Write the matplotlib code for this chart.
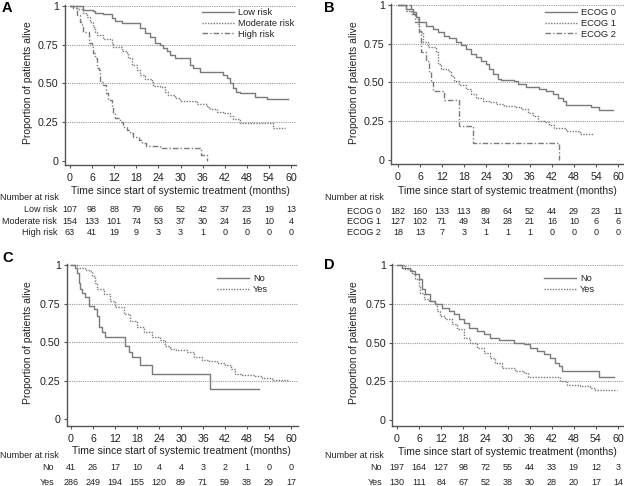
import matplotlib
matplotlib.use("Agg")
import matplotlib.pyplot as plt
from matplotlib.transforms import blended_transform_factory

plt.rcParams['font.family'] = ['Liberation Sans', 'DejaVu Sans']

# ---------------- data ----------------
x_ticks = [0, 6, 12, 18, 24, 30, 36, 42, 48, 54, 60]
y_ticks = [0, 0.25, 0.5, 0.75, 1]
y_ticklabels = ["0", "0.25", "0.50", "0.75", "1"]

# Panel A
a_low_t = [0, 3.6, 6.3, 6.8, 9, 11.3, 12.2, 14, 19, 20.4, 21.7, 23, 24.4, 25.3, 26.2, 27.1, 28.5, 32.6, 33.5, 35.3, 41.6, 42.5, 43.4, 44.3, 45.2, 46.2, 50.2, 53.4, 59.3]
a_low_s = [1, 0.974, 0.968, 0.953, 0.948, 0.92, 0.903, 0.888, 0.856, 0.828, 0.80, 0.763, 0.748, 0.727, 0.71, 0.684, 0.667, 0.62, 0.598, 0.572, 0.555, 0.533, 0.501, 0.469, 0.447, 0.437, 0.415, 0.40, 0.40]
a_mod_t = [0, 1.8, 3.6, 4.5, 5.4, 6.3, 6.8, 7.2, 9, 11.3, 11.8, 14, 15.4, 15.8, 16.7, 18.1, 19, 20.4, 22.2, 22.6, 24.4, 25.8, 26.7, 28.5, 29.9, 34.4, 37.1, 38, 39.8, 41.6, 43.4, 44.3, 46.2, 55.2, 58.4]
a_mod_s = [1, 0.978, 0.953, 0.931, 0.899, 0.867, 0.834, 0.813, 0.79, 0.759, 0.733, 0.712, 0.695, 0.662, 0.619, 0.587, 0.555, 0.527, 0.512, 0.484, 0.475, 0.447, 0.426, 0.404, 0.387, 0.368, 0.35, 0.333, 0.318, 0.308, 0.29, 0.269, 0.243, 0.215, 0.215]
a_high_t = [0, 0.9, 1.8, 2.7, 3.2, 3.6, 5.2, 5.9, 6.3, 6.8, 7.2, 8.0, 8.1, 9, 9.9, 10.4, 11.3, 11.8, 12.2, 13.6, 14.5, 15.4, 16.3, 17.2, 18.6, 19.5, 20.6, 24.3, 35.6, 37.1]
a_high_s = [1, 0.985, 0.942, 0.899, 0.867, 0.834, 0.759, 0.738, 0.695, 0.662, 0.598, 0.587, 0.512, 0.49, 0.437, 0.394, 0.35, 0.308, 0.275, 0.254, 0.222, 0.2, 0.178, 0.157, 0.135, 0.114, 0.097, 0.082, 0.039, 0.0]

# Panel B
b_e0_t = [0, 2.2, 4, 4.9, 5.8, 7.6, 9.5, 10.8, 12.6, 14, 15.8, 17.2, 18.5, 19.9, 21.3, 22.6, 24, 24.9, 25.8, 27.2, 28.1, 31.7, 32.6, 34.9, 38.5, 40.4, 42.2, 43.6, 44.9, 45.8, 52.6, 54.9, 58.5]
b_e0_s = [1, 0.974, 0.953, 0.92, 0.888, 0.866, 0.845, 0.823, 0.802, 0.79, 0.763, 0.741, 0.716, 0.683, 0.662, 0.64, 0.619, 0.586, 0.554, 0.522, 0.515, 0.511, 0.489, 0.468, 0.461, 0.446, 0.425, 0.403, 0.381, 0.353, 0.343, 0.323, 0.323]
b_e1_t = [0, 2.2, 4, 4.9, 5.4, 5.8, 6.7, 8.1, 10.4, 10.9, 11.8, 13.6, 14.5, 15.4, 16.7, 18.5, 19.9, 21.3, 23.1, 24.9, 26.7, 29, 32.2, 33.5, 35.4, 36.7, 38.1, 39.9, 41.2, 42.6, 45.8, 49.5, 53.1]
b_e1_s = [1, 0.963, 0.942, 0.92, 0.877, 0.823, 0.76, 0.726, 0.694, 0.619, 0.586, 0.575, 0.543, 0.511, 0.483, 0.457, 0.425, 0.403, 0.381, 0.371, 0.36, 0.349, 0.345, 0.328, 0.306, 0.285, 0.253, 0.242, 0.224, 0.209, 0.188, 0.166, 0.166]
b_e2_t = [0, 3.5, 4.5, 5.6, 6.3, 7.6, 8.4, 9.0, 9.5, 12.6, 16.5, 20.5, 43.8]
b_e2_s = [1, 0.944, 0.889, 0.833, 0.694, 0.639, 0.565, 0.5, 0.444, 0.389, 0.222, 0.111, 0.0]

# Panel C
c_no_t = [0, 1.2, 1.6, 2.1, 2.5, 3, 3.9, 4.8, 6.2, 7.1, 7.5, 8.5, 9.4, 14.8, 15.7, 16.6, 18.9, 22.1, 38, 51.2]
c_no_s = [1, 0.983, 0.95, 0.886, 0.843, 0.821, 0.789, 0.735, 0.714, 0.671, 0.596, 0.563, 0.535, 0.477, 0.434, 0.402, 0.348, 0.29, 0.194, 0.194]
c_yes_t = [0, 1.6, 3.9, 4.8, 5.7, 6.6, 7.1, 8.9, 10.7, 12.1, 14.4, 16.2, 18, 19.8, 22.1, 24.4, 25.7, 27.1, 28.5, 31.6, 33.5, 35.7, 37.5, 39.8, 42.1, 43.5, 44.8, 46.6, 50.3, 52.1, 54.8, 59.4]
c_yes_s = [1, 0.978, 0.966, 0.961, 0.929, 0.886, 0.843, 0.811, 0.768, 0.725, 0.682, 0.639, 0.596, 0.563, 0.531, 0.51, 0.477, 0.456, 0.445, 0.434, 0.402, 0.381, 0.376, 0.363, 0.348, 0.327, 0.295, 0.284, 0.277, 0.269, 0.256, 0.256]

# Panel D
d_no_t = [0, 1.4, 3.6, 5, 5.9, 6.8, 7.7, 9, 10.4, 12.2, 14, 15.4, 16.7, 18.1, 19.5, 21.7, 23.5, 25.3, 27.6, 31.7, 34.4, 36.2, 38, 39.8, 41.6, 43, 43.9, 44.8, 54.8, 58.8]
d_no_s = [1, 0.978, 0.961, 0.94, 0.908, 0.843, 0.811, 0.768, 0.746, 0.725, 0.703, 0.682, 0.649, 0.628, 0.596, 0.574, 0.553, 0.531, 0.514, 0.499, 0.488, 0.467, 0.445, 0.424, 0.402, 0.37, 0.348, 0.316, 0.28, 0.28]
d_yes_t = [0, 2.3, 4.1, 5, 5.9, 6.3, 7.2, 8.6, 10.4, 10.9, 11.8, 13.1, 14.9, 16.3, 18.1, 19.9, 21.7, 23.5, 25.3, 26.7, 28.5, 32.1, 34.4, 35.7, 44.3, 46.2, 49.8, 52.5, 53.8, 59.7]
d_yes_s = [1, 0.972, 0.94, 0.908, 0.865, 0.822, 0.78, 0.768, 0.746, 0.703, 0.671, 0.649, 0.617, 0.585, 0.531, 0.499, 0.467, 0.434, 0.402, 0.37, 0.338, 0.316, 0.306, 0.278, 0.252, 0.224, 0.219, 0.209, 0.194, 0.194]

# Numbers at risk
a_labels = ["Low risk", "Moderate risk", "High risk"]
a_risk = [[107, 98, 88, 79, 66, 52, 42, 37, 23, 19, 13],
          [154, 133, 101, 74, 53, 37, 30, 24, 16, 10, 4],
          [63, 41, 19, 9, 3, 3, 1, 0, 0, 0, 0]]
b_labels = ["ECOG 0", "ECOG 1", "ECOG 2"]
b_risk = [[182, 160, 133, 113, 89, 64, 52, 44, 29, 23, 11],
          [127, 102, 71, 49, 34, 28, 21, 16, 10, 6, 6],
          [18, 13, 7, 3, 1, 1, 1, 0, 0, 0, 0]]
c_labels = ["No", "Yes"]
c_risk = [[41, 26, 17, 10, 4, 4, 3, 2, 1, 0, 0],
          [286, 249, 194, 155, 120, 89, 71, 59, 38, 29, 17]]
d_labels = ["No", "Yes"]
d_risk = [[197, 164, 127, 98, 72, 55, 44, 33, 19, 12, 3],
          [130, 111, 84, 67, 52, 38, 30, 28, 20, 17, 14]]

# ---------------- styling ----------------
W, H = 624, 486
fig = plt.figure(figsize=(W / 100, H / 100), dpi=100)
LINE = '#7a7a7a'
GRID = '#9a9a9a'
SPINE = '#555555'
TXT = '#222222'
FS_TICK = 7.7
FS_LAB = 7.5
FS_LEG = 6.7
TFS = 6.5
styles = ['-', (0, (1, 1)), (0, (4, 1.5, 1, 1.5))]


def fy(ypx):
    return 1 - ypx / H


def make_ax(spine_l, x0px, x60px, right, y1px, y0px, bottom_px, top_px):
    sx = (x60px - x0px) / 60.0
    sy = (y0px - y1px)
    ax = fig.add_axes([spine_l / W, fy(bottom_px), (right - spine_l) / W, (bottom_px - top_px) / H])
    ax.set_xlim(-(x0px - spine_l) / sx, 60 + (right - x60px) / sx)
    ax.set_ylim(-(bottom_px - y0px) / sy, 1 + (y1px - top_px) / sy)
    for s in ['top', 'right']:
        ax.spines[s].set_visible(False)
    for s in ['left', 'bottom']:
        ax.spines[s].set_color(SPINE)
        ax.spines[s].set_linewidth(1.0)
    ax.set_xticks(x_ticks)
    ax.set_yticks(y_ticks)
    ax.set_yticklabels(y_ticklabels)
    ax.tick_params(axis='both', length=2.5, width=0.8, color=SPINE, labelsize=FS_TICK, labelcolor=TXT)
    ax.tick_params(axis='x', pad=3)
    ax.tick_params(axis='y', pad=2)
    for yv in [0.25, 0.5, 0.75, 1.0]:
        ax.axhline(yv, color=GRID, lw=0.8, ls=(0, (1, 1)), zorder=0)
    ax.patch.set_alpha(0)
    return ax


def curves(ax, series, labels, leg_x, leg_y):
    for (t, s), lab, st in zip(series, labels, styles):
        ax.step(t, s, where='post', color=LINE, lw=1.0, ls=st, label=lab)
    ax.legend(loc='upper left', bbox_to_anchor=(leg_x / W, fy(leg_y)), bbox_transform=fig.transFigure,
              frameon=False, fontsize=FS_LEG, handlelength=3.4, handletextpad=0.45, labelspacing=0.2,
              borderpad=0, borderaxespad=0, labelcolor=TXT)


def risk_table(ax, labels, rows, nar_x, nar_y, lab_right, row_ys):
    tr = blended_transform_factory(ax.transData, fig.transFigure)
    fig.text(nar_x / W, fy(nar_y), "Number at risk", fontsize=TFS, color=TXT, ha='left', va='center')
    for lab, row, ry in zip(labels, rows, row_ys):
        fig.text(lab_right / W, fy(ry), lab, fontsize=TFS, color=TXT, ha='right', va='center')
        for xv, n in zip(x_ticks, row):
            ax.text(xv, fy(ry), str(n), transform=tr, fontsize=TFS, color=TXT, ha='center', va='center')


XLABEL = "Time since start of systemic treatment (months)"
YLABEL = "Proportion of patients alive"

# Panel A
axA = make_ax(65, 70, 291, 296, 6, 161, 165, 5)
curves(axA, [(a_low_t, a_low_s), (a_mod_t, a_mod_s), (a_high_t, a_high_s)], a_labels, 202, 8)
risk_table(axA, a_labels, a_risk, 0, 197, 57, [210, 221, 232])
fig.text(180 / W, fy(191), XLABEL, fontsize=FS_LAB, color=TXT, ha='center', va='center')
fig.text(28 / W, fy(83), YLABEL, fontsize=FS_LAB, color=TXT, ha='center', va='center', rotation=90)
fig.text(2 / W, fy(8), "A", fontsize=10.5, fontweight='bold', ha='left', va='center')

# Panel B
axB = make_ax(391, 398, 618, 624, 5, 160, 164, 4)
curves(axB, [(b_e0_t, b_e0_s), (b_e1_t, b_e1_s), (b_e2_t, b_e2_s)], b_labels, 545, 8)
risk_table(axB, b_labels, b_risk, 325, 197, 381, [211, 221, 232])
fig.text(507 / W, fy(191), XLABEL, fontsize=FS_LAB, color=TXT, ha='center', va='center')
fig.text(354 / W, fy(83), YLABEL, fontsize=FS_LAB, color=TXT, ha='center', va='center', rotation=90)
fig.text(324 / W, fy(8), "B", fontsize=10.5, fontweight='bold', ha='left', va='center')

# Panel C
axC = make_ax(67, 71, 291, 298, 265, 419, 426, 264)
curves(axC, [(c_no_t, c_no_s), (c_yes_t, c_yes_s)], c_labels, 217, 274)
risk_table(axC, c_labels, c_risk, 0, 455, 54, [467, 482])
fig.text(181 / W, fy(451), XLABEL, fontsize=FS_LAB, color=TXT, ha='center', va='center')
fig.text(28 / W, fy(343), YLABEL, fontsize=FS_LAB, color=TXT, ha='center', va='center', rotation=90)
fig.text(2 / W, fy(258), "C", fontsize=10.5, fontweight='bold', ha='left', va='center')

# Panel D
axD = make_ax(392, 397, 618, 624, 265, 420, 426, 264)
curves(axD, [(d_no_t, d_no_s), (d_yes_t, d_yes_s)], d_labels, 544, 274)
risk_table(axD, d_labels, d_risk, 325, 455, 382, [467, 482])
fig.text(507 / W, fy(452), XLABEL, fontsize=FS_LAB, color=TXT, ha='center', va='center')
fig.text(354 / W, fy(343), YLABEL, fontsize=FS_LAB, color=TXT, ha='center', va='center', rotation=90)
fig.text(324 / W, fy(265), "D", fontsize=10.5, fontweight='bold', ha='left', va='center')

fig.savefig("out.png", dpi=100)
